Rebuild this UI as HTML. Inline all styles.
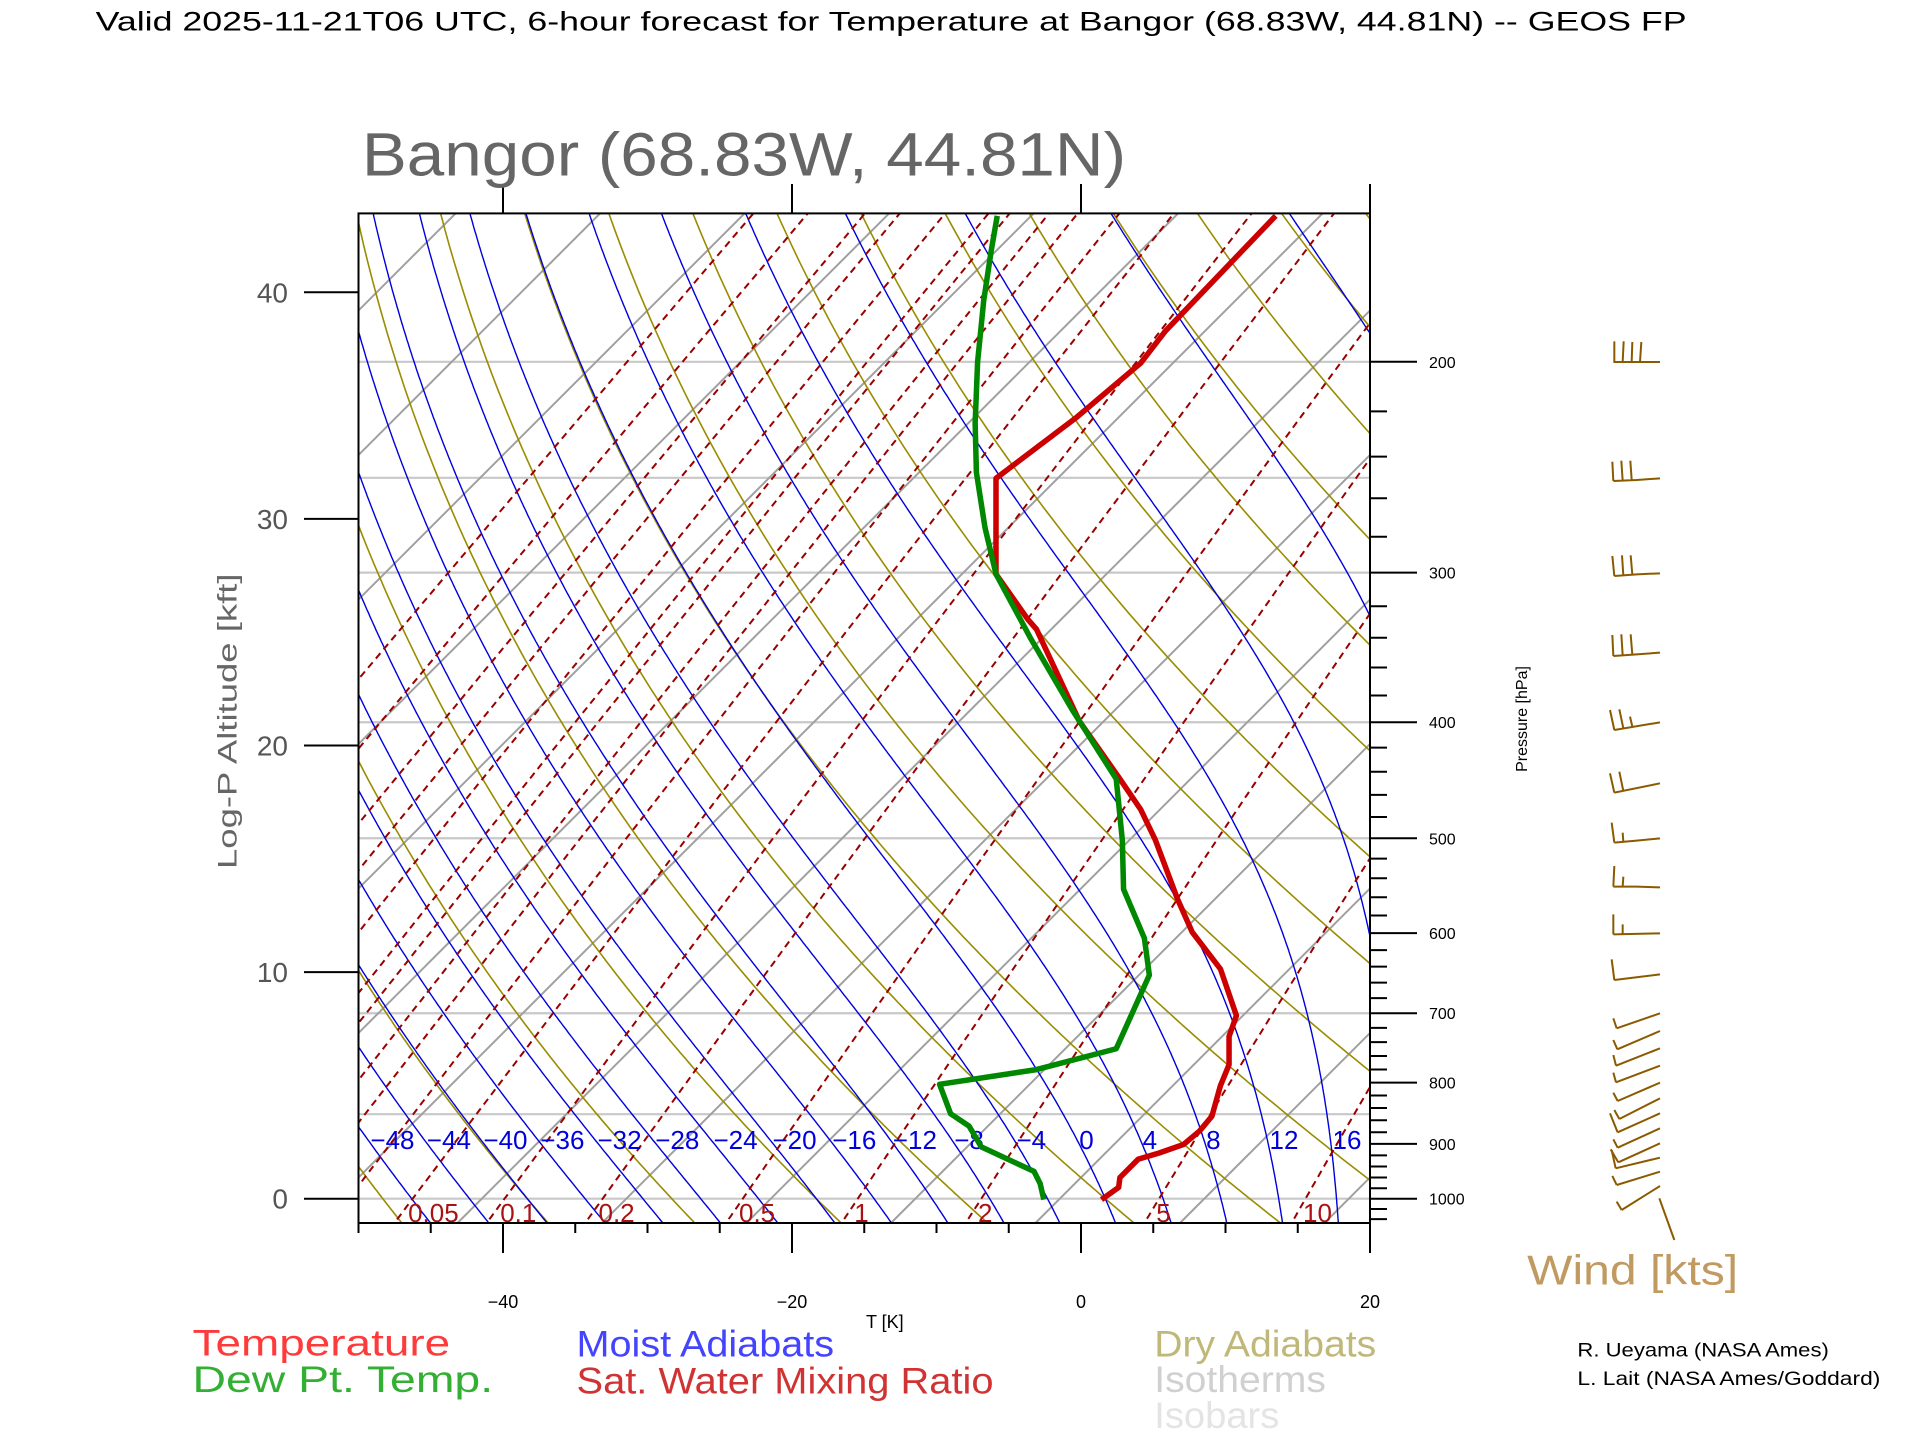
<!DOCTYPE html>
<html><head><meta charset="utf-8"><style>
html,body{margin:0;padding:0;background:#fff;}
svg{display:block;font-family:"Liberation Sans",sans-serif;}
</style></head><body>
<svg id="s" width="1920" height="1440" viewBox="0 0 1920 1440" xmlns="http://www.w3.org/2000/svg">
<defs><clipPath id="cp"><rect x="358.5" y="213.4" width="1011.5" height="1009.6"/></clipPath></defs>
<rect width="1920" height="1440" fill="#fff"/>
<g id="grid" clip-path="url(#cp)"></g>
<g id="labels"></g>
<g id="axes" stroke="#000" stroke-width="2" fill="none"></g>
<g id="axlab" font-size="18" fill="#000"></g>

<g transform="scale(1.2266)">
  <text x="78" y="25" font-size="22" textLength="1297" lengthAdjust="spacingAndGlyphs" fill="#000">Valid 2025-11-21T06 UTC, 6-hour forecast for Temperature at Bangor (68.83W, 44.81N) -- GEOS FP</text>
  <text x="295" y="143" font-size="50" textLength="623" lengthAdjust="spacingAndGlyphs" fill="#666">Bangor (68.83W, 44.81N)</text>
  <text transform="translate(193,588) rotate(-90)" text-anchor="middle" font-size="22" textLength="241" lengthAdjust="spacingAndGlyphs" fill="#666">Log-P Altitude [kft]</text>
  <text x="157" y="1105" font-size="30" textLength="210" lengthAdjust="spacingAndGlyphs" fill="#ff3a3a">Temperature</text>
  <text x="157" y="1135" font-size="30" textLength="245" lengthAdjust="spacingAndGlyphs" fill="#33b033">Dew Pt. Temp.</text>
  <text x="470" y="1106" font-size="30" textLength="210" lengthAdjust="spacingAndGlyphs" fill="#4444ff">Moist Adiabats</text>
  <text x="470" y="1136" font-size="30" textLength="340" lengthAdjust="spacingAndGlyphs" fill="#d03333">Sat. Water Mixing Ratio</text>
  <text x="941" y="1106" font-size="30" textLength="181" lengthAdjust="spacingAndGlyphs" fill="#c0b878">Dry Adiabats</text>
  <text x="941" y="1135" font-size="30" textLength="140" lengthAdjust="spacingAndGlyphs" fill="#d0d0d0">Isotherms</text>
  <text x="941" y="1164" font-size="30" textLength="102" lengthAdjust="spacingAndGlyphs" fill="#e4e4e4">Isobars</text>
  <text x="1245" y="1047" font-size="34" textLength="172" lengthAdjust="spacingAndGlyphs" fill="#c09a60">Wind [kts]</text>
  <text x="1286" y="1106" font-size="16" textLength="205" lengthAdjust="spacingAndGlyphs" fill="#000">R. Ueyama (NASA Ames)</text>
  <text x="1286" y="1129" font-size="16" textLength="247" lengthAdjust="spacingAndGlyphs" fill="#000">L. Lait (NASA Ames/Goddard)</text>
  <polyline fill="none" stroke="#cc0000" stroke-width="4.5" stroke-linejoin="round" points="898,978 912,968 913,960 928,945 945,940 965,933 978,922 988,910 995,885 1002,868 1002,845 1008,828 995,790 972,760 960,733 942,685 930,660 913,635 880,588 845,513 838,505 812,468 812,390 878,340 930,296 950,270 1040,176"/>
  <polyline fill="none" stroke="#008800" stroke-width="4.5" stroke-linejoin="round" points="851,978 848,965 843,955 800,935 790,918 775,908 766,884 845,872 910,855 937,795 933,765 916,725 915,685 910,635 875,580 840,520 812,468 803,430 796,385 795,345 797,295 802,245 808,205 813,176"/>
</g>

<g transform="translate(1380,300) scale(0.33333)" stroke="#8b5a00" stroke-width="6" fill="none">
<path d="M700,186 L840,186 M703,186 L703,124 M728,186 L731,124 M755,186 L757,126 M780,186 L784,126"/>
<path d="M700,543 L770,540 L840,535 M700,543 L697,485 M728,542 L724,482 M755,540 L751,482"/>
<path d="M703,828 L770,823 L840,820 M703,828 L697,768 M730,826 L726,766 M757,824 L752,766"/>
<path d="M700,1068 L770,1063 L840,1058 M700,1068 L697,1005 M728,1066 L724,1003 M757,1064 L752,1003"/>
<path d="M703,1290 L840,1267 M703,1290 L690,1230 M730,1285 L718,1228 M757,1280 L750,1250"/>
<path d="M703,1478 L840,1450 M703,1478 L690,1420 M730,1473 L718,1415"/>
</g>
<g transform="translate(1380,800) scale(0.33333)" stroke="#8b5a00" stroke-width="6" fill="none">
<path d="M703,128 L770,122 L840,115 M703,128 L695,68 M730,126 L728,98"/>
<path d="M700,260 L770,260 L840,262 M700,260 L703,198 M728,260 L730,230"/>
<path d="M700,403 L840,400 M700,403 L700,343 M728,403 L728,373"/>
<path d="M703,540 L840,523 M703,540 L695,478"/>
<path d="M710,685 L840,640 M710,685 L700,655"/>
<path d="M712,748 L840,693 M712,748 L700,720"/>
<path d="M708,797 L840,745 M708,797 L700,765"/>
<path d="M708,847 L840,797 M708,847 L700,818"/>
<path d="M713,903 L840,848 M713,903 L700,878"/>
<path d="M718,957 L840,895 M718,957 L703,930"/>
<path d="M713,997 L840,940 M713,997 L690,940"/>
<path d="M713,1043 L840,985 M713,1043 L700,1018"/>
<path d="M715,1087 L840,1030 M715,1087 L692,1048"/>
<path d="M707,1105 L840,1073 M707,1105 L695,1050"/>
<path d="M710,1155 L840,1115 M710,1155 L697,1128"/>
<path d="M725,1230 L840,1158 M725,1230 L710,1205"/>
<path d="M838,1195 L883,1320"/>
</g>
</svg>
<script>
(function(){
var NS="http://www.w3.org/2000/svg";
var X0=1081,SX=14.45,YB=1223,YT=213.4,Y1000=1198.7,SP=520,XL=358.5,XR=1370;
function yP(p){return Y1000-SP*Math.log(1000/p);}
function xT(T,y){return X0+SX*T+(YB-y);}
function el(tag,attrs,parent,txt){var e=document.createElementNS(NS,tag);for(var k in attrs)e.setAttribute(k,attrs[k]);if(txt!==undefined)e.textContent=txt;parent.appendChild(e);return e;}
var grid=document.getElementById('grid'),labels=document.getElementById('labels'),axes=document.getElementById('axes'),axlab=document.getElementById('axlab');
function poly(pts,attrs){var d=pts.map(function(p,i){return (i?'L':'M')+p[0].toFixed(1)+','+p[1].toFixed(1);}).join('');attrs.d=d;attrs.fill='none';el('path',attrs,grid);}
[1000,850,700,500,400,300,250,200].forEach(function(p){var y=yP(p);el('line',{x1:XL,x2:XR,y1:y,y2:y,stroke:'#c8c8c8','stroke-width':2.2},grid);});
for(var K=100;K<=330;K+=10){var T=K-273.15;poly([[xT(T,YB),YB],[xT(T,YT),YT]],{stroke:'#a0a0a0','stroke-width':2});}
for(var th=-80;th<=220;th+=10){var pts=[];for(var p=1060;p>=145;p-=5){var T=(th+273.15)*Math.pow(p/1000,0.2857)-273.15;var y=yP(p);pts.push([xT(T,y),y]);}poly(pts,{stroke:'#9a8c00','stroke-width':1.6});}
var Rd=287,cp=1005,Lv=2.5e6;
function f(T,p){var Tk=T+273.15;var es=6.112*Math.exp(17.67*T/(T+243.5));var rs=0.622*es/Math.max(p-es,1);return (Rd*Tk+Lv*rs)/(cp+Lv*Lv*rs*0.622/(Rd*Tk*Tk));}
function moist(tw){var up=[],T=tw,lp=Math.log(1000),h=-0.004;while(Math.exp(lp)>145){var p=Math.exp(lp);var k1=f(T,p);var k2=f(T+h*k1,Math.exp(lp+h));T+=h*(k1+k2)/2;lp+=h;var pp=Math.exp(lp);var y=yP(pp);up.push([xT(T,y),y,T,pp]);}
var dn=[],T2=tw,lp2=Math.log(1000),h2=0.004;while(Math.exp(lp2)<1065){var p2=Math.exp(lp2);var a=f(T2,p2);var b=f(T2+h2*a,Math.exp(lp2+h2));T2+=h2*(a+b)/2;lp2+=h2;var y2=yP(Math.exp(lp2));dn.push([xT(T2,y2),y2]);}
var y0=yP(1000);return dn.reverse().concat([[xT(tw,y0),y0]]).concat(up);}
for(var tw=-48;tw<=40;tw+=4){var pts=moist(tw);poly(pts.map(function(a){return [a[0],a[1]];}),{stroke:'#0000dd','stroke-width':1.4});
 if(tw<=16){var best=null;for(var i=0;i<pts.length;i++){if(Math.abs(pts[i][1]-1140)<2){best=pts[i];break;}}
 if(best){el('text',{x:(best[0]+2).toFixed(1),y:1149,'font-size':26,fill:'#0000dd'},labels,(tw<0?'\u2212'+(-tw):String(tw)));}}}
function tdw(w,p){var e=w*p/(622+w);var l=Math.log(e/6.112);return 243.5*l/(17.67-l);}
[0.0005,0.001,0.002,0.003,0.005,0.008,0.01,0.015,0.02,0.03,0.05,0.1,0.2,0.5,1,2,5,10,20,50].forEach(function(w){var pts=[];for(var p=1060;p>=145;p-=5){var y=yP(p);pts.push([xT(tdw(w,p),y),y]);}poly(pts,{stroke:'#990000','stroke-width':2,'stroke-dasharray':'7 5'});
 if([0.05,0.1,0.2,0.5,1,2,5,10].indexOf(w)>=0){var y=1210;var p=1000*Math.exp(-(Y1000-y)/SP);var x=xT(tdw(w,p),y);el('text',{x:(x+4).toFixed(1),y:1222,'font-size':26,fill:'#aa1111'},labels,String(w));}});
el('rect',{x:XL,y:YT,width:XR-XL,height:YB-YT},axes);
el('line',{x1:XR,x2:XR,y1:184,y2:YT},axes);
[-40,-20,0].forEach(function(T){var x=X0+SX*T;el('line',{x1:x,x2:x,y1:184,y2:YT},axes);});
for(var T=-50;T<=20;T+=5){var x=X0+SX*T;var maj=(T%20===0);el('line',{x1:x,x2:x,y1:YB,y2:maj?1253:1233},axes);}
[-40,-20,0,20].forEach(function(T){var x=X0+SX*T;el('text',{x:x,y:1308,'text-anchor':'middle'},axlab,(T<0?'\u2212'+(-T):String(T)));});
el('text',{x:866,y:1328,'font-size':18},axlab,'T [K]');
for(var k=0;k<=40;k+=10){var y=Y1000-k*22.66;el('line',{x1:304,x2:XL,y1:y,y2:y},axes);el('text',{x:288,y:y+10,'text-anchor':'end','font-size':28,fill:'#555'},axlab,String(k));}
for(var p=200;p<=1040;p+=20){var y=yP(p);var maj=(p%100===0);el('line',{x1:XR,x2:maj?1417:1387,y1:y,y2:y},axes);if(maj)el('text',{x:1429,y:y+6,'font-size':16},axlab,String(p));}
el('text',{transform:'translate(1527,719) rotate(-90)','text-anchor':'middle','font-size':16},axlab,'Pressure [hPa]');
})();
</script>
</body></html>
